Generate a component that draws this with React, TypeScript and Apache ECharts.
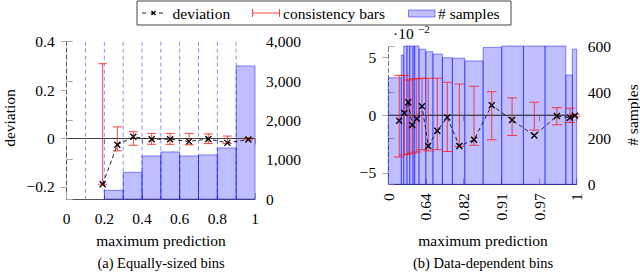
import React, { useEffect, useRef } from "react";
import * as echarts from "echarts";

const FONT = "Liberation Serif, Times New Roman, serif";
const FS = 15.5;

// ---------- (a) Equally-sized bins ----------
const leftBinEdges = [0.1, 0.2, 0.3, 0.4, 0.5, 0.6, 0.7, 0.8, 0.9, 1.0];
const leftCounts = [0, 221, 679, 1094, 1196, 1094, 1120, 1298, 3384];
const leftMeanPred = [0.191, 0.269, 0.354, 0.451, 0.549, 0.65, 0.752, 0.853, 0.965];
const leftDeviation = [-0.189, -0.026, 0.007, -0.003, -0.003, -0.012, -0.002, -0.018, -0.004];
const leftBarHigh = [0.309, 0.048, 0.028, 0.021, 0.021, 0.021, 0.019, 0.01, 0.003];
const leftBarLow = [-0.189, -0.051, -0.028, -0.024, -0.024, -0.026, -0.021, -0.021, -0.005];
const leftXTickLabels = ["0", "0.2", "0.4", "0.6", "0.8", "1"];
const leftYTicks = [-0.2, 0, 0.2, 0.4];

// ---------- (b) Data-dependent bins (deviation in units of 10^-2) ----------
const rightBinEdges = [0, 0.069, 0.082, 0.099, 0.114, 0.131, 0.14, 0.163, 0.199, 0.237, 0.287, 0.34, 0.406, 0.503, 0.602, 0.717, 0.832, 0.942, 0.977, 1.0];
const rightCounts = [462, 561, 640, 640, 640, 640, 640, 586, 575, 565, 549, 547, 535, 594, 640, 640, 640, 474, 586];
const rightMeanPred = [0.058, 0.085, 0.106, 0.127, 0.151, 0.179, 0.212, 0.26, 0.313, 0.377, 0.455, 0.549, 0.657, 0.775, 0.895, 0.964, 0.991];
const rightDeviation = [-0.48, 0.19, 1.12, -0.86, -0.31, 0.77, -2.67, -1.36, -0.19, -2.67, -2.14, 0.86, -0.42, -1.77, -0.07, -0.22, -0.04];
const rightBarHigh = [3.45, 3.45, 3.05, 3.15, 3.15, 3.2, 3.2, 3.2, 2.85, 2.7, 2.5, 2.03, 1.5, 1.12, 0.65, 0.6, 0.08];
const rightBarLow = [-3.63, -3.45, -3.37, -3.3, -3.2, -3.0, -3.1, -3.0, -3.15, -2.72, -2.62, -2.14, -1.77, -1.3, -0.84, -0.64, -0.14];
const rightXTickLabels = ["0", "0.64", "0.82", "0.91", "0.97", "1"];
const rightYTicks = [-5, 0, 5];

const BAR_FILL = "rgba(0,0,255,0.25)";
const BAR_STROKE = "rgba(0,0,255,0.45)";
const RED = "rgba(255,20,20,0.8)";
const TICK = "#aaaaaa";
const FRAME = "#555555";

const fmtMinus = (v: number, s: string) => (v < 0 ? "\u2212" + s.replace("-", "") : s);
const fmtThousands = (v: number) => String(v).replace(/\B(?=(\d{3})+(?!\d))/g, ",");

function barSeries(xi: number, yi: number, edges: number[], counts: number[]) {
  return {
    type: "custom",
    xAxisIndex: xi,
    yAxisIndex: yi,
    z: 1,
    silent: true,
    data: counts.map((c, i) => [edges[i], edges[i + 1], c]),
    encode: { x: [0, 1], y: 2 },
    renderItem: (params: any, api: any) => {
      if (!(api.value(2) > 0)) return null;
      const p0 = api.coord([api.value(0), api.value(2)]);
      const p1 = api.coord([api.value(1), 0]);
      const cs = params.coordSys;
      const rect = echarts.graphic.clipRectByRect(
        { x: p0[0], y: p0[1], width: p1[0] - p0[0], height: p1[1] - p0[1] },
        { x: cs.x, y: cs.y, width: cs.width, height: cs.height }
      );
      if (!rect) return null;
      return { type: "rect", shape: rect, style: { fill: BAR_FILL, stroke: BAR_STROKE, lineWidth: 1 } };
    },
  };
}

function vLineSeries(xi: number, yi: number, xs: number[], color: string) {
  return {
    type: "custom",
    xAxisIndex: xi,
    yAxisIndex: yi,
    z: 2,
    silent: true,
    data: xs.map((x) => [x]),
    encode: { x: 0 },
    renderItem: (params: any, api: any) => {
      const cs = params.coordSys;
      const x = api.coord([api.value(0), 0])[0];
      return {
        type: "line",
        shape: { x1: x, y1: cs.y, x2: x, y2: cs.y + cs.height },
        style: { stroke: color, lineWidth: 1, lineDash: [4, 3] },
      };
    },
  };
}

function hLineSeries(xi: number, yi: number, ys: number[]) {
  return {
    type: "custom",
    xAxisIndex: xi,
    yAxisIndex: yi,
    z: 2,
    silent: true,
    data: ys.map((y) => [0, y]),
    encode: { x: 0, y: 1 },
    renderItem: (params: any, api: any) => {
      const cs = params.coordSys;
      const y = api.coord([0, api.value(1)])[1];
      return {
        type: "line",
        shape: { x1: cs.x, y1: y, x2: cs.x + cs.width, y2: y },
        style: { stroke: "#444", lineWidth: 1 },
      };
    },
  };
}

function errSeries(xi: number, yi: number, xs: number[], lo: number[], hi: number[], cap: number) {
  return {
    type: "custom",
    xAxisIndex: xi,
    yAxisIndex: yi,
    z: 3,
    silent: true,
    data: xs.map((x, i) => [x, lo[i], hi[i]]),
    encode: { x: 0, y: [1, 2] },
    renderItem: (_params: any, api: any) => {
      const a = api.coord([api.value(0), api.value(1)]);
      const b = api.coord([api.value(0), api.value(2)]);
      const style = { stroke: RED, lineWidth: 1 };
      return {
        type: "group",
        children: [
          { type: "line", shape: { x1: a[0], y1: a[1], x2: b[0], y2: b[1] }, style },
          { type: "line", shape: { x1: a[0] - cap, y1: a[1], x2: a[0] + cap, y2: a[1] }, style },
          { type: "line", shape: { x1: b[0] - cap, y1: b[1], x2: b[0] + cap, y2: b[1] }, style },
        ],
      };
    },
  };
}

function devSeries(xi: number, yi: number, xs: number[], ys: number[]) {
  return {
    type: "line",
    xAxisIndex: xi,
    yAxisIndex: yi,
    z: 4,
    silent: true,
    data: xs.map((x, i) => [x, ys[i]]),
    symbol: "path://M0 0L10 10M10 0L0 10",
    symbolSize: 6,
    itemStyle: { color: "#000", borderColor: "#000", borderWidth: 1.3 },
    lineStyle: { color: "#222", width: 1, type: [4, 3] },
  };
}

const labelBase = { fontFamily: FONT, fontSize: FS, color: "#000" };

function xAxisBottom(grid: number, labels: string[], rotate: number, margin: number) {
  return {
    type: "value",
    gridIndex: grid,
    position: "bottom",
    min: 0,
    max: 1,
    interval: 0.2,
    axisLine: { show: true, lineStyle: { color: FRAME, width: 1 } },
    axisTick: { show: true, inside: false, length: 6, lineStyle: { color: TICK } },
    axisLabel: {
      ...labelBase,
      margin,
      rotate,
      showMinLabel: true,
      showMaxLabel: true,
      formatter: (v: number) => labels[Math.round(v / 0.2)] ?? "",
    },
    splitLine: { show: false },
  };
}

function xAxisTop(grid: number) {
  return {
    type: "value",
    gridIndex: grid,
    position: "top",
    min: 0,
    max: 1,
    interval: 0.2,
    axisLine: { show: true, lineStyle: { color: FRAME, width: 1 } },
    axisTick: { show: true, inside: false, length: 6, lineStyle: { color: TICK } },
    axisLabel: { show: false },
    splitLine: { show: false },
  };
}

const txt = (text: string, x: number, y: number, extra: any = {}) => ({
  type: "text",
  x,
  y,
  ...extra,
  style: { text, fontFamily: FONT, fontSize: FS, fill: "#000", align: "center", verticalAlign: "middle", ...(extra.style || {}) },
});

export default function App() {
  const ref = useRef<HTMLDivElement>(null);
  useEffect(() => {
    if (!ref.current) return;
    const chart = echarts.init(ref.current, null, { renderer: "svg" });
    const option: any = {
      animation: false,
      backgroundColor: "#fff",
      textStyle: { fontFamily: FONT },
      grid: [
        { left: 66.7, top: 41.7, width: 188.3, height: 157.3 },
        { left: 388.3, top: 46, width: 188.4, height: 138.3 },
      ],
      xAxis: [
        xAxisBottom(0, leftXTickLabels, 0, 11),
        xAxisTop(0),
        xAxisBottom(1, rightXTickLabels, 90, 9),
        xAxisTop(1),
      ],
      yAxis: [
        {
          type: "value",
          gridIndex: 0,
          position: "left",
          min: -0.25,
          max: 0.4,
          axisLine: { show: true, lineStyle: { color: "#dddddd" } },
          axisTick: { show: true, inside: false, length: 6, lineStyle: { color: TICK }, customValues: leftYTicks },
          axisLabel: { ...labelBase, margin: 12, customValues: leftYTicks, formatter: (v: number) => fmtMinus(v, String(Math.round(v * 10) / 10)) },
          splitLine: { show: false },
        },
        {
          type: "value",
          gridIndex: 0,
          position: "right",
          min: 0,
          max: 4000,
          interval: 1000,
          axisLine: { show: true, lineStyle: { color: "#555", type: [4, 3] } },
          axisTick: { show: true, inside: false, length: 6, lineStyle: { color: TICK } },
          axisLabel: { ...labelBase, margin: 11, formatter: (v: number) => fmtThousands(v) },
          splitLine: { show: false },
        },
        {
          type: "value",
          gridIndex: 1,
          position: "left",
          min: -6,
          max: 6,
          axisLine: { show: true, lineStyle: { color: "#777", type: [4, 3] } },
          axisTick: { show: true, inside: false, length: 6, lineStyle: { color: TICK }, customValues: rightYTicks },
          axisLabel: { ...labelBase, margin: 12, customValues: rightYTicks, formatter: (v: number) => fmtMinus(v, String(v)) },
          splitLine: { show: false },
        },
        {
          type: "value",
          gridIndex: 1,
          position: "right",
          min: 0,
          max: 600,
          interval: 200,
          axisLine: { show: true, lineStyle: { color: "#777", type: [4, 3] } },
          axisTick: { show: true, inside: false, length: 6, lineStyle: { color: TICK } },
          axisLabel: { ...labelBase, margin: 11 },
          splitLine: { show: false },
        },
      ],
      series: [
        barSeries(0, 1, leftBinEdges, leftCounts),
        vLineSeries(0, 0, leftBinEdges.slice(0, 9), "rgba(0,0,255,0.45)"),
        hLineSeries(0, 0, [0]),
        errSeries(0, 0, leftMeanPred, leftBarLow, leftBarHigh, 4.5),
        devSeries(0, 0, leftMeanPred, leftDeviation),
        barSeries(2, 3, rightBinEdges, rightCounts),
        hLineSeries(2, 2, [0]),
        errSeries(2, 2, rightMeanPred, rightBarLow, rightBarHigh, 5),
        devSeries(2, 2, rightMeanPred, rightDeviation),
      ],
      graphic: [
        // legend box
        { type: "rect", shape: { x: 137, y: 1, width: 374, height: 24 }, style: { fill: "#fff", stroke: "#444", lineWidth: 1 }, z: 10 },
        { type: "line", shape: { x1: 142, y1: 13, x2: 165, y2: 13 }, style: { stroke: "#222", lineWidth: 1, lineDash: [4, 4.5] }, z: 11 },
        { type: "line", shape: { x1: 151.5, y1: 11, x2: 155.5, y2: 15 }, style: { stroke: "#000", lineWidth: 1.2 }, z: 11 },
        { type: "line", shape: { x1: 155.5, y1: 11, x2: 151.5, y2: 15 }, style: { stroke: "#000", lineWidth: 1.2 }, z: 11 },
        { ...txt("deviation", 172.5, 13, { style: { align: "left" } }), z: 11 },
        { type: "line", shape: { x1: 252.5, y1: 13, x2: 279.5, y2: 13 }, style: { stroke: RED, lineWidth: 1 }, z: 11 },
        { type: "line", shape: { x1: 252.5, y1: 9, x2: 252.5, y2: 17 }, style: { stroke: RED, lineWidth: 1 }, z: 11 },
        { type: "line", shape: { x1: 279.5, y1: 9, x2: 279.5, y2: 17 }, style: { stroke: RED, lineWidth: 1 }, z: 11 },
        { ...txt("consistency bars", 283, 13, { style: { align: "left" } }), z: 11 },
        { type: "rect", shape: { x: 408.5, y: 10, width: 26.5, height: 7 }, style: { fill: BAR_FILL, stroke: BAR_STROKE, lineWidth: 1 }, z: 11 },
        { ...txt("# samples", 438, 13, { style: { align: "left" } }), z: 11 },
        // axis titles
        txt("deviation", 9, 118, { rotation: Math.PI / 2 }),
        txt("# samples", 632, 115, { rotation: Math.PI / 2 }),
        txt("maximum prediction", 161, 240),
        txt("maximum prediction", 483, 240),
        // scale note
        txt("\u00b710", 393, 33, { style: { align: "left" } }),
        txt("\u22122", 418, 29, { style: { align: "left", fontSize: 11 } }),
        // captions
        txt("(a) Equally-sized bins", 161, 263, { style: { fontSize: 14.5 } }),
        txt("(b) Data-dependent bins", 483, 263, { style: { fontSize: 14.5 } }),
      ],
    };
    chart.setOption(option);
    return () => chart.dispose();
  }, []);
  return (
    <div
      ref={ref}
      style={{ position: "absolute", left: 0, top: 0, width: 640, height: 278, background: "#fff" }}
    />
  );
}
